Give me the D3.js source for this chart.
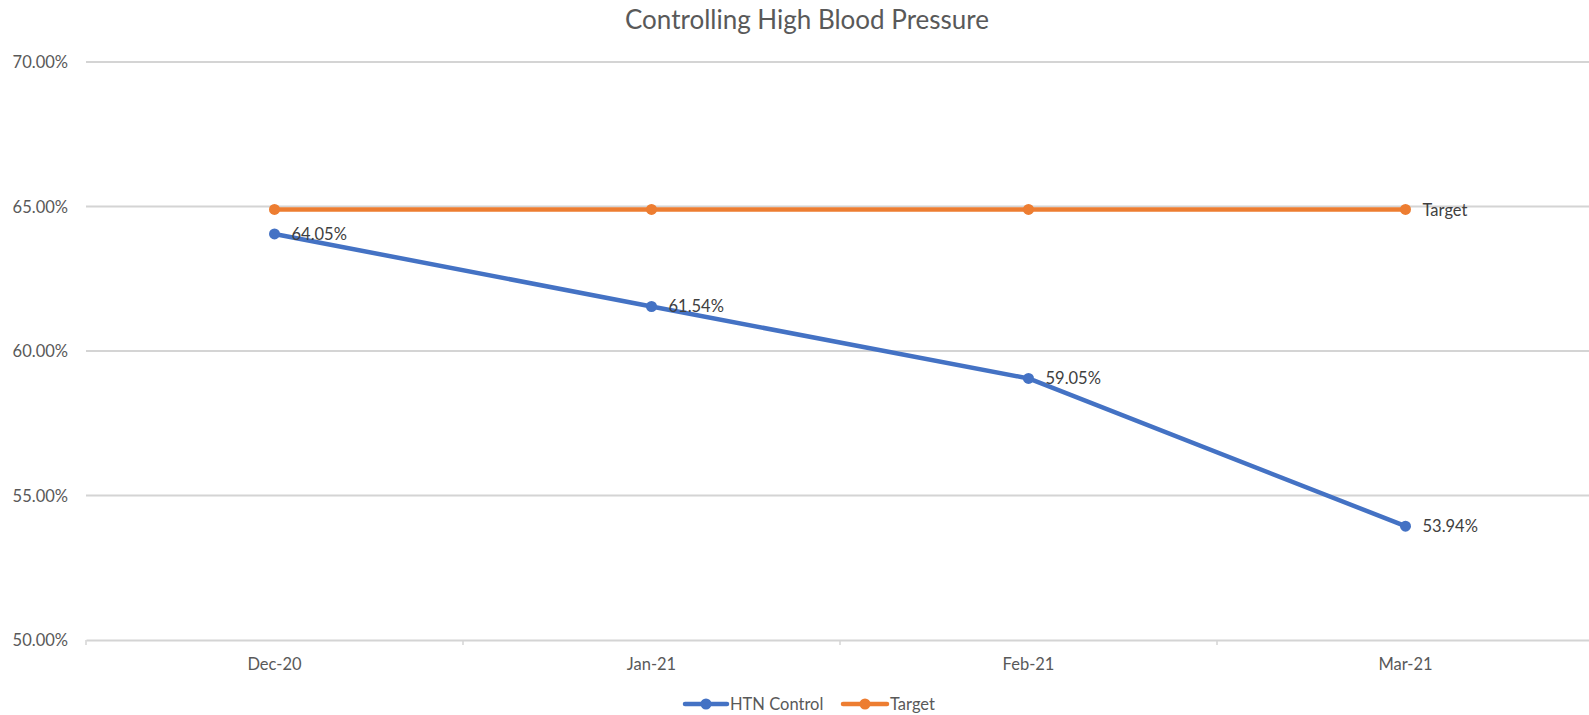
<!DOCTYPE html>
<html>
<head>
    <title>Controlling High Blood Pressure</title>
    <script src="https://cdnjs.cloudflare.com/ajax/libs/d3/7.8.5/d3.min.js"></script>
    <style>
        html, body {
            margin: 0;
            padding: 0;
            background: white;
            font-family: 'Lato', 'Open Sans', sans-serif;
        }
        #chart svg { display: block; }
    </style>
</head>
<body>
    <div id="chart"></div>
    <script>
        // chart data
        const months = ["Dec-20", "Jan-21", "Feb-21", "Mar-21"];
        const htnControl = [64.05, 61.54, 59.05, 53.94];
        const target = [64.9, 64.9, 64.9, 64.9];
        const yTicks = [50, 55, 60, 65, 70];
        const seriesNames = ["HTN Control", "Target"];
        const seriesColors = ["#4472C4", "#ED7D31"];

        const width = 1589, height = 715;
        const margin = { top: 62, right: -5, bottom: 75, left: 86 };

        const svg = d3.select("#chart")
            .append("svg")
            .attr("width", width)
            .attr("height", height);

        const x = d3.scaleBand()
            .domain(months)
            .range([margin.left, width - margin.right])
            .padding(0);

        const y = d3.scaleLinear()
            .domain([50, 70])
            .range([height - margin.bottom, margin.top]);

        const cx = m => x(m) + x.bandwidth() / 2;

        // title
        svg.append("text")
            .attr("x", 807)
            .attr("y", 19)
            .attr("text-anchor", "middle")
            .attr("dominant-baseline", "central")
            .attr("font-size", "26px")
            .attr("fill", "#595959")
            .text("Controlling High Blood Pressure");

        // gridlines
        svg.append("g")
            .selectAll("line")
            .data(yTicks.filter(t => t > 50))
            .enter()
            .append("line")
            .attr("x1", margin.left)
            .attr("x2", width)
            .attr("y1", d => y(d))
            .attr("y2", d => y(d))
            .attr("stroke", "#d4d4d4")
            .attr("stroke-width", 2);

        // y labels
        svg.append("g")
            .selectAll("text")
            .data(yTicks)
            .enter()
            .append("text")
            .attr("x", 68)
            .attr("y", d => y(d))
            .attr("text-anchor", "end")
            .attr("dominant-baseline", "central")
            .attr("font-size", "16.5px")
            .attr("fill", "#595959")
            .text(d => d.toFixed(2) + "%");

        // x axis
        const xAxis = d3.axisBottom(x)
            .tickValues([])
            .tickSizeOuter(0);
        const axisG = svg.append("g")
            .attr("transform", `translate(0,${y(50)})`)
            .call(xAxis);
        axisG.select(".domain").attr("stroke", "#d4d4d4").attr("stroke-width", 2);

        const boundaries = months.map(m => x(m));
        axisG.selectAll(".bound")
            .data(boundaries)
            .enter()
            .append("line")
            .attr("class", "bound")
            .attr("x1", d => d)
            .attr("x2", d => d)
            .attr("y1", 0)
            .attr("y2", 5)
            .attr("stroke", "#d4d4d4")
            .attr("stroke-width", 1.5);

        svg.append("g")
            .selectAll("text")
            .data(months)
            .enter()
            .append("text")
            .attr("x", d => cx(d))
            .attr("y", 664)
            .attr("text-anchor", "middle")
            .attr("dominant-baseline", "central")
            .attr("font-size", "16.5px")
            .attr("fill", "#595959")
            .text(d => d);

        // lines
        const line = d3.line()
            .x((d, i) => cx(months[i]))
            .y(d => y(d));

        [htnControl, target].forEach((series, si) => {
            svg.append("path")
                .datum(series)
                .attr("d", line)
                .attr("fill", "none")
                .attr("stroke", seriesColors[si])
                .attr("stroke-width", 4.5)
                .attr("stroke-linejoin", "round")
                .attr("stroke-linecap", "round");

            svg.append("g")
                .selectAll("circle")
                .data(series)
                .enter()
                .append("circle")
                .attr("cx", (d, i) => cx(months[i]))
                .attr("cy", d => y(d))
                .attr("r", 5.5)
                .attr("fill", seriesColors[si]);
        });

        // data labels
        svg.append("g")
            .selectAll("text")
            .data(htnControl)
            .enter()
            .append("text")
            .attr("x", (d, i) => cx(months[i]) + 17)
            .attr("y", d => y(d))
            .attr("dominant-baseline", "central")
            .attr("font-size", "16.5px")
            .attr("fill", "#404040")
            .text(d => d.toFixed(2) + "%");

        svg.append("text")
            .attr("x", cx(months[3]) + 17)
            .attr("y", y(target[3]) + 1)
            .attr("dominant-baseline", "central")
            .attr("font-size", "16.5px")
            .attr("fill", "#404040")
            .text("Target");

        // legend
        const legendX = [685, 843];
        const legendLen = [42, 44];
        const legend = svg.append("g");
        seriesNames.forEach((name, i) => {
            const lx = legendX[i];
            legend.append("line")
                .attr("x1", lx)
                .attr("x2", lx + legendLen[i])
                .attr("y1", 704)
                .attr("y2", 704)
                .attr("stroke", seriesColors[i])
                .attr("stroke-width", 4.5)
                .attr("stroke-linecap", "round");
            legend.append("circle")
                .attr("cx", lx + legendLen[i] / 2)
                .attr("cy", 704)
                .attr("r", 5.5)
                .attr("fill", seriesColors[i]);
            legend.append("text")
                .attr("x", lx + legendLen[i] + 3)
                .attr("y", 704)
                .attr("dominant-baseline", "central")
                .attr("font-size", "16.5px")
                .attr("fill", "#595959")
                .text(name);
        });
    </script>
</body>
</html>
